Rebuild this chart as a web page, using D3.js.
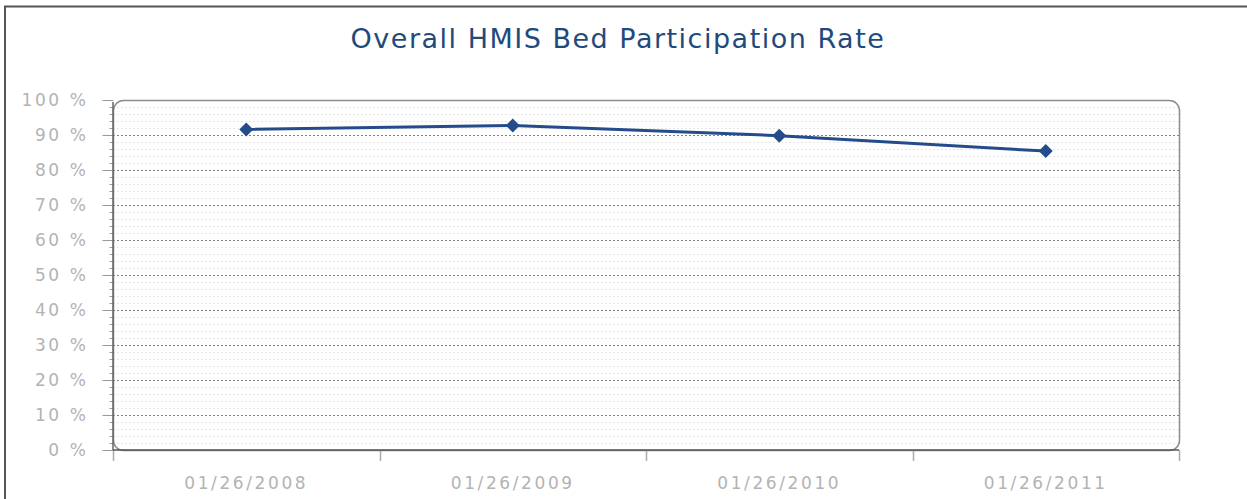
<!DOCTYPE html>
<html>
<head>
<meta charset="utf-8">
<script src="https://cdn.jsdelivr.net/npm/d3@7"></script>
<style>
	body { margin: 0; background: #fff; }
	svg { display: block; }
</style>
</head>
<body>
<div id="chart"></div>
<script>
// chart data
var title = "Overall HMIS Bed Participation Rate";
var categories = ["01/26/2008", "01/26/2009", "01/26/2010", "01/26/2011"];
var rates = [91.6, 92.7, 89.8, 85.4];
var yTicks = [0, 10, 20, 30, 40, 50, 60, 70, 80, 90, 100];

var width = 1247, height = 499;
var margin = {top: 100, right: 68, bottom: 49, left: 113};
var font = "Tahoma, 'DejaVu Sans', sans-serif";

var svg = d3.select("#chart").append("svg")
	.attr("width", width)
	.attr("height", height);

// outer frame (only top and left visible)
svg.append("path")
	.attr("d", "M5,499 V6.5 H1247")
	.attr("fill", "none")
	.attr("stroke", "#555")
	.attr("stroke-width", 2);

svg.append("text")
	.attr("x", 618)
	.attr("y", 48)
	.attr("text-anchor", "middle")
	.attr("font-family", font)
	.attr("font-size", 27)
	.attr("letter-spacing", 1.5)
	.attr("fill", "#1f4a7d")
	.text(title);

var x = d3.scaleBand()
	.domain(categories)
	.range([margin.left, width - margin.right])
	.padding(0);

var y = d3.scaleLinear()
	.domain([0, 100])
	.range([height - margin.bottom, margin.top]);

var x0 = margin.left, x1 = width - margin.right;
var y0 = height - margin.bottom, y1 = margin.top;
var minorTicks = d3.range(2, 100, 2).filter(function(d) { return d % 10 !== 0; });

// minor gridlines every 2%
var g = svg.append("g");
g.selectAll("line.minor")
	.data(minorTicks)
	.enter().append("line")
	.attr("class", "minor")
	.attr("x1", x0).attr("x2", x1)
	.attr("y1", function(d) { return Math.round(y(d)) + 0.5; })
	.attr("y2", function(d) { return Math.round(y(d)) + 0.5; })
	.attr("stroke", "#e6e6e6")
	.attr("stroke-dasharray", "2,2");

// major gridlines
g.selectAll("line.major")
	.data(yTicks.filter(function(d) { return d > 0 && d < 100; }))
	.enter().append("line")
	.attr("class", "major")
	.attr("x1", x0).attr("x2", x1)
	.attr("y1", function(d) { return Math.round(y(d)) + 0.5; })
	.attr("y2", function(d) { return Math.round(y(d)) + 0.5; })
	.attr("stroke", "#808080")
	.attr("stroke-dasharray", "2,2");

// plot area frame with rounded corners
svg.append("rect")
	.attr("x", x0 + 0.5).attr("y", y1 + 0.5)
	.attr("width", x1 - x0).attr("height", y0 - y1)
	.attr("rx", 10).attr("ry", 10)
	.attr("fill", "none")
	.attr("stroke", "#8c8c8c")
	.attr("stroke-width", 1.5);

// axes
var yAxis = d3.axisLeft(y)
	.tickValues(yTicks)
	.tickSize(11)
	.tickPadding(14)
	.tickFormat(function(d) { return d + " %"; });

var ya = svg.append("g")
	.attr("transform", "translate(" + (x0 + 0.5) + ",0)")
	.call(yAxis);

var yMinor = d3.axisLeft(y)
	.tickValues(minorTicks)
	.tickSize(4)
	.tickFormat("");

svg.append("g")
	.attr("transform", "translate(" + (x0 + 0.5) + ",0)")
	.call(yMinor)
	.call(function(s) { s.select(".domain").remove(); s.selectAll("line").attr("stroke", "#999"); });

var xAxis = d3.axisBottom(x)
	.tickSize(0)
	.tickPadding(26);

var xa = svg.append("g")
	.attr("transform", "translate(0," + (y0 + 0.5) + ")")
	.call(xAxis);

// category boundary ticks
svg.append("g").selectAll("line")
	.data(categories.concat([null]))
	.enter().append("line")
	.attr("x1", function(d, i) { return Math.round(x0 + i * x.bandwidth()) + 0.5; })
	.attr("x2", function(d, i) { return Math.round(x0 + i * x.bandwidth()) + 0.5; })
	.attr("y1", y0)
	.attr("y2", y0 + 11)
	.attr("stroke", "#aaa")
	.attr("stroke-width", 1.5);

[ya, xa].forEach(function(a) {
	a.select(".domain").remove();
	a.selectAll(".tick line").attr("stroke", "#999");
	a.selectAll("text")
		.attr("font-family", font)
		.attr("font-size", 17)
		.attr("letter-spacing", 2.6)
		.attr("fill", "#b3b3b3");
});
svg.append("line")
	.attr("x1", x0).attr("x2", x0).attr("y1", y1 + 2).attr("y2", y0)
	.attr("stroke", "#666").attr("stroke-width", 1.5);
svg.append("line")
	.attr("x1", x0).attr("x2", x1).attr("y1", y0).attr("y2", y0)
	.attr("stroke", "#555").attr("stroke-width", 1.5);

// series
var cx = function(d, i) { return x(categories[i]) + x.bandwidth() / 2; };

svg.append("path")
	.datum(rates)
	.attr("fill", "none")
	.attr("stroke", "#244c8a")
	.attr("stroke-width", 3)
	.attr("d", d3.line()
		.x(cx)
		.y(function(d) { return y(d); }));

svg.append("g").selectAll("path")
	.data(rates)
	.enter().append("path")
	.attr("transform", function(d, i) { return "translate(" + cx(d, i) + "," + y(d) + ")"; })
	.attr("d", "M0,-7 L7,0 L0,7 L-7,0 Z")
	.attr("fill", "#244c8a");
</script>
</body>
</html>
